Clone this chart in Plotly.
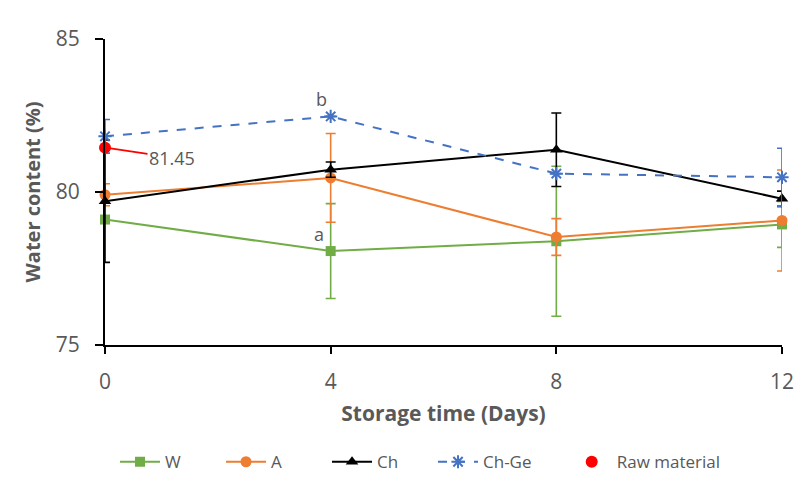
import plotly.graph_objects as go

days = [0, 4, 8, 12]
w_vals = [79.10, 78.07, 78.39, 78.94]
w_err = [0.0, 1.55, 2.45, 0.75]
a_vals = [79.91, 80.46, 78.53, 79.07]
a_err = [0.36, 1.45, 0.60, 1.65]
ch_vals = [79.70, 80.73, 81.38, 79.78]
ch_err = [2.00, 0.25, 1.20, 0.25]
chge_vals = [81.82, 82.47, 80.60, 80.48]
chge_err = [0.55, 0.0, 0.0, 0.95]
raw_day = [0]
raw_val = [81.45]

GREEN = "#70AD47"
ORANGE = "#ED7D31"
BLUE = "#4472C4"
RED = "#FF0000"
FONT = "Open Sans"
GRAY = "#595959"

fig = go.Figure()

def err(vals, color):
    return dict(type="data", array=vals, visible=True, color=color, thickness=1.6, width=5)

fig.add_trace(go.Scatter(x=days, y=w_vals, name="W", mode="lines+markers", cliponaxis=False,
    line=dict(color=GREEN, width=2), marker=dict(symbol="square", size=10, color=GREEN),
    error_y=err(w_err, GREEN)))
fig.add_trace(go.Scatter(x=days, y=a_vals, name="A", mode="lines+markers", cliponaxis=False,
    line=dict(color=ORANGE, width=2), marker=dict(symbol="circle", size=11, color=ORANGE),
    error_y=err(a_err, ORANGE)))
fig.add_trace(go.Scatter(x=days, y=ch_vals, name="Ch", mode="lines+markers", cliponaxis=False,
    line=dict(color="black", width=2), marker=dict(symbol="triangle-up", size=11, color="black"),
    error_y=err(ch_err, "black")))
fig.add_trace(go.Scatter(x=days, y=chge_vals, name="Ch-Ge", mode="lines+markers", cliponaxis=False,
    line=dict(color=BLUE, width=2, dash="dash"),
    marker=dict(symbol="asterisk-open", size=11, color=BLUE, line=dict(color=BLUE, width=2)),
    error_y=err(chge_err, BLUE)))
fig.add_trace(go.Scatter(x=raw_day, y=raw_val, name="Raw material", mode="markers", cliponaxis=False,
    marker=dict(symbol="circle", size=12, color=RED), legend="legend2"))

fig.add_annotation(x=raw_day[0], y=raw_val[0], text=f"{raw_val[0]:.2f}", showarrow=True,
    arrowhead=0, arrowcolor=RED, arrowwidth=1.8, ax=67, ay=10, standoff=4,
    font=dict(family=FONT, size=18, color=GRAY))
fig.add_annotation(x=days[1], y=w_vals[1], text="a", showarrow=False, xshift=-12, yshift=17,
    font=dict(family=FONT, size=18, color=GRAY))
fig.add_annotation(x=days[1], y=chge_vals[1], text="b", showarrow=False, xshift=-9, yshift=17,
    font=dict(family=FONT, size=18, color=GRAY))

legend_font = dict(family=FONT, size=17, color=GRAY)
fig.update_layout(
    width=796, height=487,
    margin=dict(l=105, r=14, t=39, b=142, autoexpand=False),
    paper_bgcolor="white", plot_bgcolor="white",
    font=dict(family=FONT, color=GRAY),
    showlegend=True,
    legend=dict(orientation="h", x=0.0148, xanchor="left", y=-0.383, yanchor="middle",
                font=legend_font, itemwidth=40,
                entrywidth=51, entrywidthmode="pixels", tracegroupgap=0),
    legend2=dict(orientation="h", x=0.682, xanchor="left", y=-0.383, yanchor="middle",
                 font=legend_font, itemwidth=40),
)
fig.update_xaxes(range=[0, 12], tickvals=days, ticktext=[str(d) for d in days],
    automargin=False,
    showgrid=False, zeroline=False, showline=True, linecolor="black", linewidth=2,
    ticks="outside", ticklen=7, tickwidth=2, tickcolor="black", ticklabelstandoff=10,
    tickfont=dict(family=FONT, size=21, color=GRAY),
    title=dict(text="<b>Storage time (Days)</b>", font=dict(family=FONT, size=21, color=GRAY), standoff=12))
fig.update_yaxes(range=[75, 85], tickvals=[75, 80, 85],
    automargin=False,
    showgrid=False, zeroline=False, showline=True, linecolor="black", linewidth=2,
    ticks="outside", ticklen=8, tickwidth=2, tickcolor="black", ticklabelstandoff=11,
    tickfont=dict(family=FONT, size=21, color=GRAY),
    title=dict(text="<b>Water content (%)</b>", font=dict(family=FONT, size=20, color=GRAY), standoff=10))

fig.write_html("out.html", config={"displayModeBar": False},
    post_script="document.body.style.margin='0';document.documentElement.style.overflow='hidden';")
